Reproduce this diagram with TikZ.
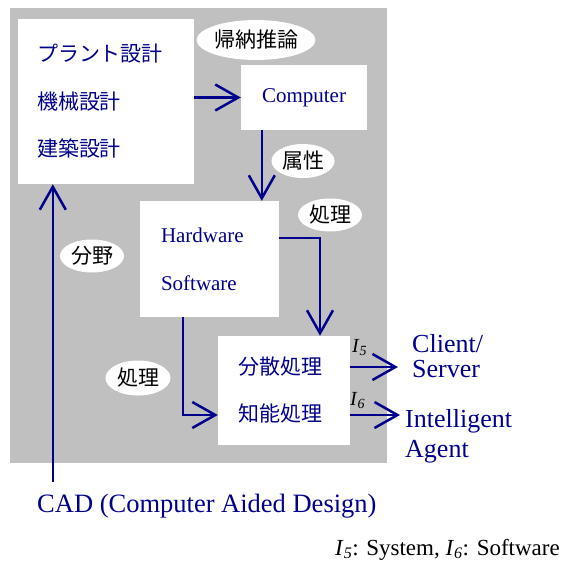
\documentclass[tikz,border=0pt]{standalone}
\usepackage{fontspec}
\setmainfont{Liberation Serif}
\newfontfamily\jpfont{Noto Sans CJK JP}
\usepackage{tikz}
\usetikzlibrary{arrows.meta,calc,shapes.geometric}
\definecolor{mynavy}{RGB}{0,0,140}
\definecolor{panelgray}{RGB}{192,192,192}
\tikzset{
  box/.style={fill=white, inner xsep=20pt, inner ysep=0pt, text=mynavy, align=left},
  tag/.style={ellipse, fill=white, inner sep=0pt, font=\jpfont\fontsize{21}{21}\selectfont},
  flow/.style={draw=mynavy, line width=2.5pt, -{Straight Barb[length=23pt,width=26pt]}},
  ilabel/.style={anchor=base west, inner sep=0pt, font=\fontsize{20}{20}\selectfont},
}

\begin{document}
\begin{tikzpicture}[x=1pt,y=-1pt]
    \useasboundingbox (0,0) rectangle (565,563);
    %%Nen xam
    \fill[panelgray] (10,8) rectangle (387,463);
    %%Cac hop
    \node[box, inner xsep=19pt, minimum width=176pt, minimum height=165pt, text width=138pt,
          font=\jpfont\fontsize{21}{47.5}\selectfont] (field) at (106,101.5) {プラント設計\\機械設計\\建築設計};
    \node[box, minimum width=126pt, minimum height=65pt, font=\fontsize{21}{21}\selectfont] (comp) at (304,97.5) {Computer};
    \node[box, inner xsep=21pt, minimum width=139pt, minimum height=116pt, text width=97pt,
          font=\fontsize{21}{48}\selectfont] (hw) at (209.5,259) {Hardware\\Software};
    \node[box, minimum width=132pt, minimum height=109pt, text width=92pt,
          font=\jpfont\fontsize{21}{47}\selectfont] (dist) at (284,390.5) {分散処理\\知能処理};
    %%Nhan elip
    \node[tag, minimum width=107pt, minimum height=40pt] (induct) at (256,40) {帰納推論};
    \node[tag, minimum width=63pt, minimum height=34pt] (attr) at (303,161) {属性};
    \node[tag, minimum width=64pt, minimum height=33pt] (proc1) at (330,215) {処理};
    \node[tag, minimum width=64pt, minimum height=33pt] (area) at (92,256) {分野};
    \node[tag, minimum width=65pt, minimum height=35pt] (proc2) at (138,378) {処理};
    %%Van ban ngoai
    \node[anchor=west, text=mynavy, align=left, inner xsep=14pt, inner ysep=0pt,
          font=\fontsize{26}{25}\selectfont] (cs) at (398,356) {Client/\\Server};
    \node[anchor=west, text=mynavy, align=left, inner xsep=5pt, inner ysep=0pt,
          font=\fontsize{26}{30}\selectfont] (agent) at (400,436) {Intelligent\\Agent};
    \node[anchor=base west, text=mynavy, inner xsep=0pt, inner ysep=11pt,
          font=\fontsize{26.5}{26.5}\selectfont] (cad) at (37,512) {CAD (Computer Aided Design)};
    \node[ilabel] (lab5) at (352,352) {\textit{I}\textsubscript{\textit{5}}};
    \node[ilabel] (lab6) at (350,405) {\textit{I}\textsubscript{\textit{6}}};
    \node[anchor=base west, inner sep=0pt, font=\fontsize{23}{23}\selectfont] (note) at (335,555)
        {\textit{I}\textsubscript{\textit{5}}: System, \textit{I}\textsubscript{\textit{6}}: Software};
    %%Mui ten
    \coordinate (cdown) at ($(comp.south west)+(21,0)$);
    \coordinate (hwout) at ($(hw.east)+(0,-21)$);
    \coordinate (dtop) at ($(dist.north)+(36,0)$);
    \coordinate (hwdown) at ($(hw.south west)+(43,0)$);
    \coordinate (din) at ($(dist.west)+(0,24.5)$);
    \coordinate (out5) at ($(dist.east)+(0,-23.5)$);
    \coordinate (out6) at ($(dist.east)+(0,24.5)$);
    \coordinate (cadup) at ($(field.south west)+(35,0)$);
    \draw[flow] (field.east |- comp.west) -- (comp.west);
    \draw[flow] (cdown) -- (cdown |- hw.north);
    \draw[flow] (hwout) -| (dtop);
    \draw[flow] (hwdown) |- (din);
    \draw[flow] (out5) -- (out5 -| cs.west);
    \draw[flow] (out6) -- (out6 -| agent.west);
    \draw[flow] (cadup |- cad.north) -- (cadup);
\end{tikzpicture}
\end{document}
